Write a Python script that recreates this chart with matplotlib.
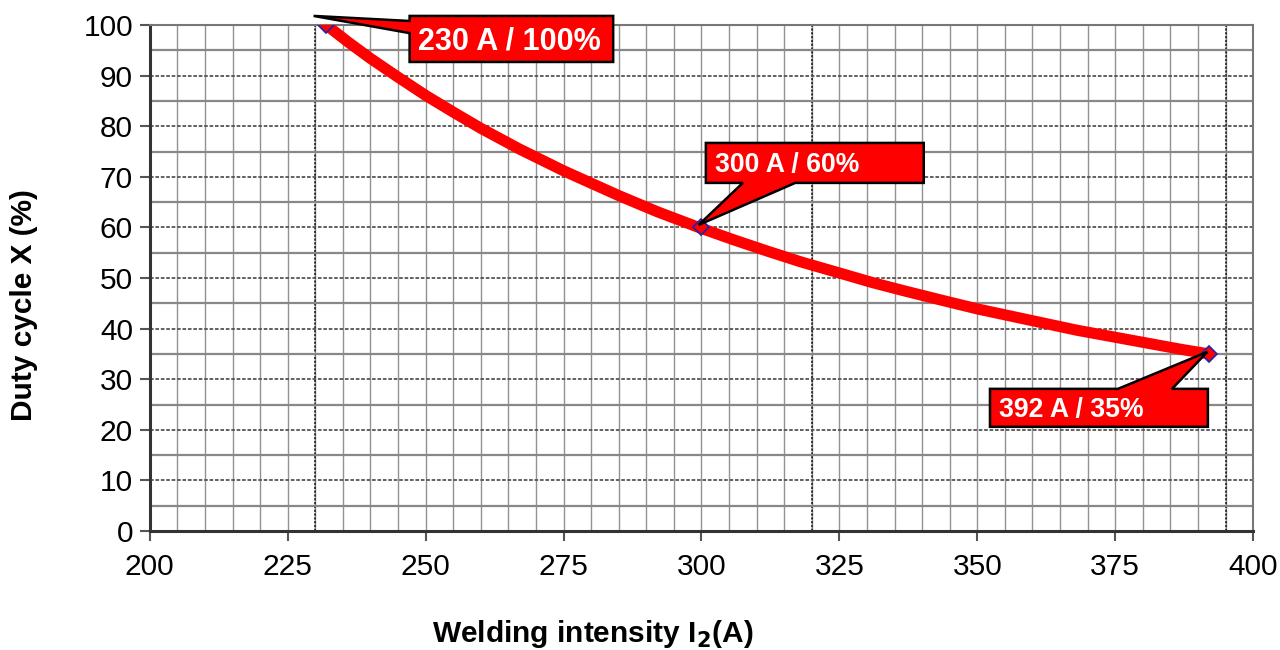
import matplotlib.pyplot as plt
from matplotlib.patches import Polygon
import numpy as np

plt.rcParams['font.family'] = ['Liberation Sans', 'DejaVu Sans']

# curve: welding current (A) vs duty cycle (%)
current = [232, 236, 240, 245, 250, 255, 260, 267, 275, 285, 292, 300,
           306, 312, 318, 325, 331, 337, 344, 350, 356, 362, 368, 375,
           382, 387, 392]
duty = [100, 96.6, 93.4, 89.7, 86.1, 82.8, 79.6, 75.5, 71.2, 66.3, 63.1, 59.8,
        57.5, 55.3, 53.2, 51.0, 49.1, 47.4, 45.5, 43.9, 42.5, 41.1, 39.7, 38.3,
        36.9, 35.9, 35.0]

# labelled rating points
pt_current = [232, 300, 392]
pt_duty = [100, 60, 35]
pt_labels = ['230 A / 100%', '300 A / 60%', '392 A / 35%']

fig = plt.figure(figsize=(12.8, 6.5), dpi=100)
ax = fig.add_axes([0.117, 0.183, 0.862, 0.7785])

ax.set_xlim(200, 400)
ax.set_ylim(0, 100)

# grid
for x in np.arange(205, 400, 5):
    ax.axvline(x, color='#777777', lw=1.0, ls='-', alpha=0.8, zorder=1)
for x in [230, 320, 395]:
    ax.axvline(x, color='#111111', lw=1.1, ls=(0, (1.5, 1.0)), zorder=1)
for y in np.arange(5, 100, 5):
    if y % 10 == 0:
        ax.axhline(y, color='#555555', lw=1.3, ls=(0, (2, 1)), zorder=1)
    else:
        ax.axhline(y, color='#888888', lw=1.6, zorder=1)

ax.plot(current, duty, color='#ff0000', lw=8, solid_capstyle='butt',
        solid_joinstyle='round', zorder=3)
ax.plot(pt_current, pt_duty, ls='none', marker='D', ms=8, color='#ff0000',
        mec='#2222aa', mew=1.2, zorder=4)

# callouts: box (x0, x1, y0, y1), wedge base, tip
callouts = [
    dict(box=(247.1, 284.0, 92.7, 101.8), side='left', base=(100.8, 98.4),
         tip=(229.7, 101.8), size=22),
    dict(box=(300.8, 340.3, 68.8, 76.7), side='bottom', base=(307.5, 317.0),
         tip=(299.5, 60.5), size=19.2),
    dict(box=(352.3, 391.8, 20.6, 28.1), side='top', base=(375.5, 385.3),
         tip=(391.7, 35.4), size=19.2),
]
for c, lab in zip(callouts, pt_labels):
    x0, x1, y0, y1 = c['box']
    b0, b1 = c['base']
    tx, ty = c['tip']
    if c['side'] == 'left':
        verts = [(x0, y1), (x1, y1), (x1, y0), (x0, y0), (x0, b1), (tx, ty), (x0, b0)]
    elif c['side'] == 'bottom':
        verts = [(x0, y1), (x1, y1), (x1, y0), (b1, y0), (tx, ty), (b0, y0), (x0, y0)]
    else:
        verts = [(x0, y1), (b0, y1), (tx, ty), (b1, y1), (x1, y1), (x1, y0), (x0, y0)]
    poly = Polygon(verts, closed=True, facecolor='#ff0000', edgecolor='black',
                   lw=1.8, zorder=5, clip_on=False)
    ax.add_patch(poly)
    ax.text(x0 + (x1 - x0) * 0.04, (y0 + y1) / 2 - 0.5, lab, color='white',
            fontsize=c['size'], fontweight='bold', va='center', ha='left',
            zorder=6, clip_on=False)

ax.set_xticks(np.arange(200, 401, 25))
ax.set_yticks(np.arange(0, 101, 10))
ax.tick_params(axis='both', labelsize=21.5, length=7, width=1.5, color='#555555',
               direction='out', pad=5)
ax.tick_params(axis='x', pad=9)

for s in ['left', 'bottom']:
    ax.spines[s].set_linewidth(2.2)
    ax.spines[s].set_color('#333333')
for s in ['top', 'right']:
    ax.spines[s].set_linewidth(1.5)
    ax.spines[s].set_color('#777777')

fig.text(0.463, 0.025, 'Welding intensity I$_\\mathbf{2}$(A)', fontsize=21.5,
         fontweight='bold', ha='center', va='center')
fig.text(0.019, 0.53, 'Duty cycle X (%)', fontsize=21.5, fontweight='bold',
         rotation=90, ha='center', va='center')

fig.savefig('out.png', dpi=100)
